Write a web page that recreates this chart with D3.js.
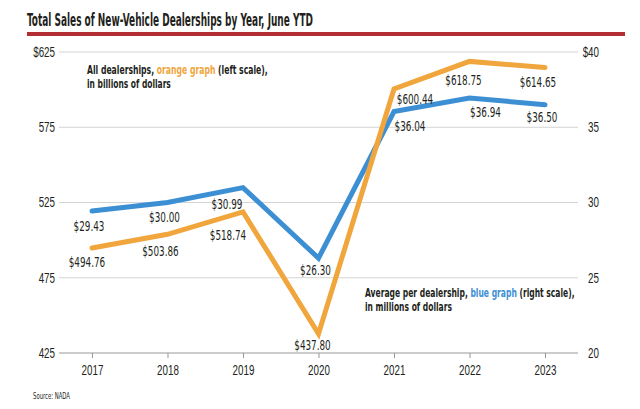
<!DOCTYPE html>
<html><head><meta charset="utf-8">
<script src="https://cdn.jsdelivr.net/npm/d3@7"></script>
<style>
body{margin:0;background:#fff;}
svg{display:block;font-family:"DejaVu Sans Condensed","Liberation Sans",sans-serif;}
</style></head>
<body><svg id="c" width="640" height="409"></svg>
<script>
const years = ["2017","2018","2019","2020","2021","2022","2023"];
const totalSales = [494.76, 503.86, 518.74, 437.80, 600.44, 618.75, 614.65];
const avgSales = [29.43, 30.00, 30.99, 26.30, 36.04, 36.94, 36.50];
const leftTicks = [425, 475, 525, 575, 625];
const rightTicks = [20, 25, 30, 35, 40];
const totalLabels = ["$494.76","$503.86","$518.74","$437.80","$600.44","$618.75","$614.65"];
const avgLabels = ["$29.43","$30.00","$30.99","$26.30","$36.04","$36.94","$36.50"];

const svg = d3.select("#c");
const L = 59, R = 578, T = 52, B = 353;
const x = d3.scalePoint().domain(years).range([L, R]).padding(0.437);
const yL = d3.scaleLinear().domain([425, 625]).range([B, T]);
const yR = d3.scaleLinear().domain([20, 40]).range([B, T]);
const ORANGE = "#F0A63C", BLUE = "#3D8FD4", TXT = "#231f20";
const K = 0.7; // horizontal compression to mimic condensed face

function squeeze(sel, width) {
  sel.each(function () {
    const w = this.getComputedTextLength();
    this.setAttribute("textLength", width != null ? width : w * K);
    this.setAttribute("lengthAdjust", "spacingAndGlyphs");
  });
}

// multi-colour annotation line, compressed via transform
function note(x0, y0, parts, width) {
  const g = svg.append("g").attr("transform", `translate(${x0},${y0})`);
  const t = g.append("text").attr("font-size", 12).attr("font-weight", "bold").attr("fill", TXT);
  parts.forEach(p => t.append("tspan").attr("fill", p[1] || TXT).text(p[0]));
  const w = t.node().getBBox().width;
  const k = width != null ? width / w : K;
  g.attr("transform", `translate(${x0},${y0}) scale(${k},1)`);
}

// title
const title = svg.append("text").attr("x", 27).attr("y", 26).attr("font-size", 17).attr("font-weight", "bold")
  .attr("fill", TXT).text("Total Sales of New-Vehicle Dealerships by Year, June YTD");
squeeze(title, 286);
svg.append("rect").attr("x", 27).attr("y", 32).attr("width", 598).attr("height", 4).attr("fill", "#B32D33");

// gridlines
svg.append("g").selectAll("line").data(leftTicks.slice(1)).join("line")
  .attr("x1", L).attr("x2", R).attr("y1", d => yL(d)).attr("y2", d => yL(d))
  .attr("stroke", "#d4d4d4").attr("stroke-width", 1);

// x axis
const xa = svg.append("g").attr("transform", `translate(0,${B})`)
  .call(d3.axisBottom(x).tickSize(5).tickSizeOuter(0).tickPadding(7));
xa.select(".domain").attr("stroke", "#999").attr("d", `M${L},0H${R}`);
xa.selectAll(".tick line").attr("stroke", "#999");
xa.selectAll("text").attr("font-size", 14).attr("fill", TXT).attr("font-family", null);
squeeze(xa.selectAll("text"));

// left axis
const la = svg.append("g").attr("transform", `translate(${L},0)`)
  .call(d3.axisLeft(yL).tickValues(leftTicks).tickSize(0).tickPadding(4)
    .tickFormat(d => d === 625 ? "$625" : String(d)));
la.select(".domain").remove();
la.selectAll("text").attr("font-size", 14).attr("fill", TXT).attr("font-family", null);
squeeze(la.selectAll("text"));

// right axis (labels right-aligned)
const ra = svg.append("g").attr("transform", `translate(${R},0)`)
  .call(d3.axisRight(yR).tickValues(rightTicks).tickSize(0).tickPadding(21)
    .tickFormat(d => d === 40 ? "$40" : String(d)));
ra.select(".domain").remove();
ra.selectAll("text").attr("font-size", 14).attr("fill", TXT).attr("font-family", null).attr("text-anchor", "end");
squeeze(ra.selectAll("text"));

// lines
const lineL = d3.line().x((d, i) => x(years[i])).y(d => yL(d));
const lineR = d3.line().x((d, i) => x(years[i])).y(d => yR(d));
svg.append("path").attr("d", lineR(avgSales)).attr("fill", "none").attr("stroke", BLUE)
  .attr("stroke-width", 5).attr("stroke-linejoin", "miter").attr("stroke-linecap", "round");
svg.append("path").attr("d", lineL(totalSales)).attr("fill", "none").attr("stroke", ORANGE)
  .attr("stroke-width", 5).attr("stroke-linejoin", "miter").attr("stroke-linecap", "round");

// labels (offsets relative to points)
const totOff = [[-5, 19], [-7, 22], [-15, 28], [-6, 16], [21, 15], [-6, 24], [-7, 19]];
const avgOff = [[-3, 20], [-3, 19], [-16, 21], [-3, 17], [16, 19], [16, 19], [-3, 17]];
const lbl = svg.append("g").attr("font-size", 14).attr("fill", TXT).attr("text-anchor", "middle");
totalSales.forEach((v, i) => {
  lbl.append("text").attr("x", x(years[i]) + totOff[i][0]).attr("y", yL(v) + totOff[i][1]).text(totalLabels[i]);
});
avgSales.forEach((v, i) => {
  lbl.append("text").attr("x", x(years[i]) + avgOff[i][0]).attr("y", yR(v) + avgOff[i][1]).text(avgLabels[i]);
});
squeeze(lbl.selectAll("text"));

// annotations
note(87, 74, [["All dealerships, "], ["orange graph", ORANGE], [" (left scale),"]], 181);
note(87, 88, [["in billions of dollars"]], 84);
note(365, 297, [["Average per dealership, "], ["blue graph", BLUE], [" (right scale),"]], 210);
note(365, 311, [["in millions of dollars"]], 87);

const src = svg.append("text").attr("x", 33).attr("y", 399).attr("font-size", 8).attr("fill", TXT).text("Source: NADA");
squeeze(src, 37);
</script></body></html>
